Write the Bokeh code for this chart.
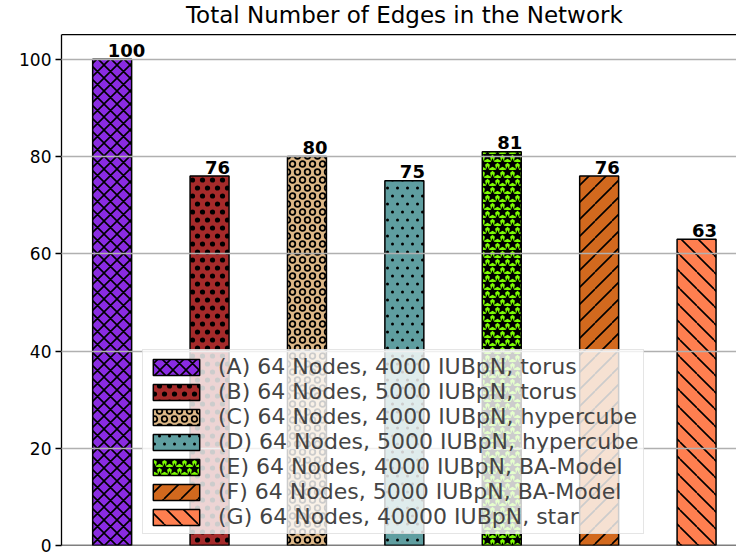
from bokeh.plotting import figure
from bokeh.models import (ColumnDataSource, Legend, LegendItem, Label, Span,
                          CanvasTexture, Range1d, FixedTicker)
from bokeh.core.properties import value
from bokeh.embed import file_html
from bokeh.resources import INLINE

# ---------------- data ----------------
title_text = "Total Number of Edges in the Network"
labels = [
    "(A) 64 Nodes, 4000 IUBpN, torus",
    "(B) 64 Nodes, 5000 IUBpN, torus",
    "(C) 64 Nodes, 4000 IUBpN, hypercube",
    "(D) 64 Nodes, 5000 IUBpN, hypercube",
    "(E) 64 Nodes, 4000 IUBpN, BA-Model",
    "(F) 64 Nodes, 5000 IUBpN, BA-Model",
    "(G) 64 Nodes, 40000 IUBpN, star",
]
values = [100, 76, 80, 75, 81, 76, 63]
colors = ["#8a2be2", "#a52a2a", "#deb887", "#5f9ea0", "#7cfc00", "#d2691e", "#ff7f50"]
patterns = ["xcross", "bigdot", "ring", "smalldot", "star", "fwd", "back"]
y_ticks = [0, 20, 40, 60, 80, 100]

# ---------------- hatch textures ----------------
HEAD = "var c=arguments[0]; var cv=c.canvas;"


def line_tex(S, fwd=True, back=False, lw=1.6):
    js = HEAD + f"var S={S}; cv.width=S; cv.height=S; c.strokeStyle='#000'; c.lineWidth={lw}; c.beginPath();"
    js += "for (var k=-1;k<=1;k++){"
    if fwd:
        js += "c.moveTo(k*S,S); c.lineTo(k*S+S,0);"
    if back:
        js += "c.moveTo(k*S,0); c.lineTo(k*S+S,S);"
    js += "} c.stroke();"
    return CanvasTexture(code=js)


def lattice_tex(W, H, draw_js):
    js = HEAD + f"var W={W}, H={H}; cv.width=W; cv.height=H; c.fillStyle='#000'; c.strokeStyle='#000';"
    js += "function draw(x,y){" + draw_js + "}"
    js += ("var P=[[W/4,H/4],[3*W/4,3*H/4]];"
           "for (var i=0;i<P.length;i++){for (var dx=-1;dx<=1;dx++){for (var dy=-1;dy<=1;dy++){"
           "draw(P[i][0]+dx*W, P[i][1]+dy*H);}}}")
    return CanvasTexture(code=js)


dot_big = "c.beginPath(); c.arc(x,y,2.6,0,2*Math.PI); c.fill();"
dot_small = "c.beginPath(); c.arc(x,y,1.5,0,2*Math.PI); c.fill();"
ring_js = "c.beginPath(); c.arc(x,y,2.8,0,2*Math.PI); c.lineWidth=1.8; c.stroke();"
star_js = ("c.beginPath(); for (var k=0;k<10;k++){var r=(k%2==0)?6.0:2.7; var a=-Math.PI/2+k*Math.PI/5;"
           "var px=x+r*Math.cos(a), py=y+r*Math.sin(a); if(k==0){c.moveTo(px,py);}else{c.lineTo(px,py);}}"
           "c.closePath(); c.fill();")

textures = {
    "xcross": line_tex(13, fwd=True, back=True, lw=1.6),
    "bigdot": lattice_tex(10, 16, dot_big),
    "ring": lattice_tex(10, 16, ring_js),
    "smalldot": lattice_tex(10, 16, dot_small),
    "star": lattice_tex(10, 16, star_js),
    "fwd": line_tex(17, fwd=True, lw=1.6),
    "back": line_tex(17, fwd=False, back=True, lw=1.6),
}

# ---------------- figure ----------------
x = list(range(len(values)))
src = ColumnDataSource(dict(x=x, top=values, color=colors, pat=patterns,
                            txt=[str(v) for v in values], label=labels))

y_top = 105.1      # top spine of the axes box
y_view = 112.1     # extra room above the box for the title
p = figure(width=736, height=552, output_backend="svg", toolbar_location=None,
           x_range=Range1d(-0.52, 6.41), y_range=Range1d(0, y_view),
           min_border_left=61, min_border_right=0, min_border_top=0, min_border_bottom=7)
p.title = None
p.outline_line_color = None
p.background_fill_color = "white"
p.border_fill_color = "white"

r = p.vbar(x="x", top="top", width=0.4, source=src, fill_color="color",
           line_color="black", line_width=1.5,
           hatch_pattern="pat", hatch_color="black", hatch_extra=textures,
           hatch_scale=12, hatch_weight=1.5)

p.text(x="x", y="top", text="txt", source=src, text_font=value("DejaVu Sans"),
       text_font_style="bold", text_font_size="18px", text_align="left",
       text_baseline="middle", x_offset=-4.5, y_offset=-9, text_color="black")

# axes
p.xaxis.visible = False
p.xgrid.visible = False
p.yaxis.ticker = FixedTicker(ticks=y_ticks)
p.yaxis.bounds = (0, y_top)
p.yaxis.minor_tick_line_color = None
p.yaxis.major_tick_in = 0
p.yaxis.major_tick_out = 6
p.yaxis.major_tick_line_width = 1.3
p.yaxis.axis_line_width = 1.3
p.yaxis.axis_line_color = "black"
p.yaxis.major_label_text_font = "DejaVu Sans"
p.yaxis.major_label_text_font_size = "17px"
p.yaxis.major_label_text_color = "black"
p.yaxis.major_label_standoff = 4
p.ygrid.grid_line_color = "#b0b0b0"
p.ygrid.grid_line_width = 1.3
p.ygrid.level = "guide"

p.add_layout(Span(location=y_top, dimension="width", line_color="black", line_width=1.3))
p.add_layout(Span(location=0, dimension="width", line_color="black", line_width=1.3))

# title
p.add_layout(Label(x=(len(values) - 1) / 2, y=109.2, text=title_text, text_align="center",
                   text_baseline="middle", text_font="DejaVu Sans",
                   text_font_size="23px", text_color="black"))

# legend
items = [LegendItem(label=labels[i], renderers=[r], index=i) for i in range(len(labels))]
legend = Legend(items=items, location=(81, 11), label_text_font="DejaVu Sans",
                label_text_font_size="22px", glyph_width=58, glyph_height=20,
                label_standoff=13, padding=4, spacing=0, margin=0,
                border_line_color="#cccccc", border_line_width=1,
                background_fill_color="white", background_fill_alpha=0.8,
                label_height=20)
p.add_layout(legend)

open("out.html", "w").write(file_html(p, INLINE))
